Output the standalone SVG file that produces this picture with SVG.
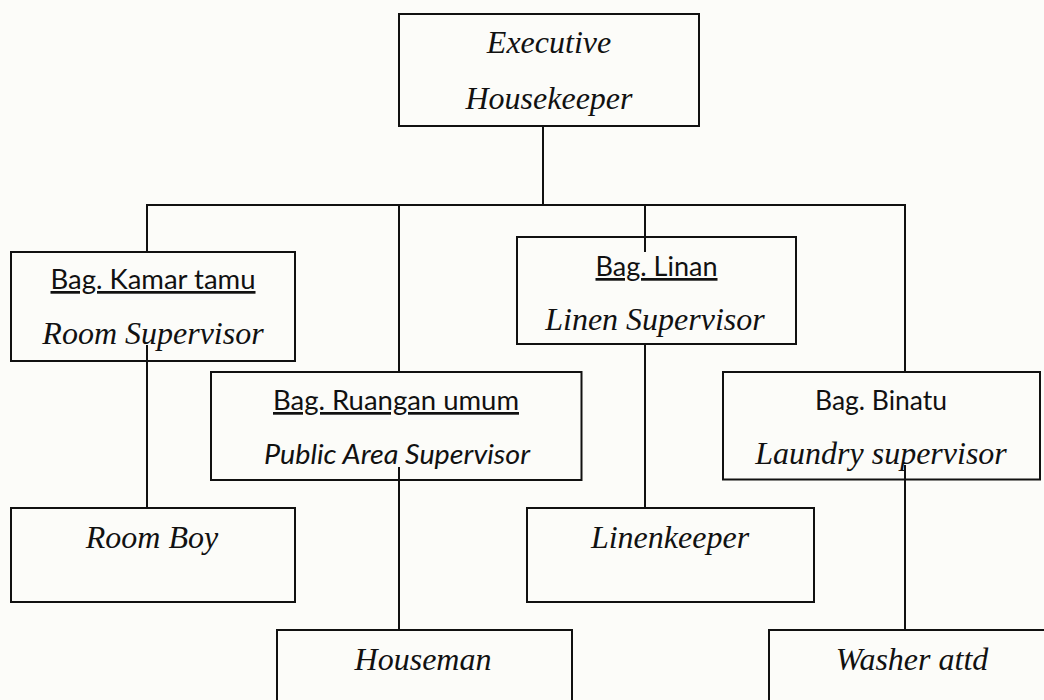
<svg xmlns="http://www.w3.org/2000/svg" width="1044" height="700" viewBox="0 0 1044 700">
<style>
.box{fill:none;stroke:#111;stroke-width:2}
.con{fill:none;stroke:#111;stroke-width:2}
.ser{font-family:"Liberation Serif","Times New Roman",serif;font-style:italic;font-size:32px;fill:#111;text-anchor:middle}
.san{font-family:Lato,"Open Sans",sans-serif;font-size:27px;fill:#111;text-anchor:middle}
.u{text-decoration:underline}
.it{font-style:italic}
</style>
<rect x="0" y="0" width="1044" height="700" fill="#fcfcf9"/>
<g id="exec">
<rect class="box" x="399" y="14" width="300" height="112"/>
<text class="ser" x="549" y="53">Executive</text>
<text class="ser" x="549" y="109">Housekeeper</text>
</g>
<g id="room-supervisor">
<rect class="box" x="11" y="252" width="284" height="109"/>
<text class="san u" x="153" y="289" textLength="205" lengthAdjust="spacingAndGlyphs">Bag. Kamar tamu</text>
<text class="ser" x="153" y="344">Room Supervisor</text>
</g>
<g id="linen-supervisor">
<rect class="box" x="517" y="237" width="279" height="107"/>
<text class="san u" x="656.5" y="276" textLength="122" lengthAdjust="spacingAndGlyphs">Bag. Linan</text>
<text class="ser" x="655" y="330">Linen Supervisor</text>
</g>
<g id="public-area-supervisor">
<rect class="box" x="211" y="372" width="370.5" height="108"/>
<text class="san u" x="396" y="410" textLength="246" lengthAdjust="spacingAndGlyphs">Bag. Ruangan umum</text>
<text class="san it" x="397" y="464" textLength="266" lengthAdjust="spacingAndGlyphs">Public Area Supervisor</text>
</g>
<g id="laundry-supervisor">
<rect class="box" x="723" y="372" width="317" height="107.5"/>
<text class="san" x="881" y="410" textLength="132" lengthAdjust="spacingAndGlyphs">Bag. Binatu</text>
<text class="ser" x="881" y="464">Laundry supervisor</text>
</g>
<g id="room-boy">
<rect class="box" x="11" y="508" width="284" height="94"/>
<text class="ser" x="152" y="548">Room Boy</text>
</g>
<g id="linenkeeper">
<rect class="box" x="527" y="508" width="287" height="94"/>
<text class="ser" x="670" y="548">Linenkeeper</text>
</g>
<g id="houseman">
<rect class="box" x="277" y="630" width="295" height="100"/>
<text class="ser" x="423" y="670">Houseman</text>
</g>
<g id="washer-attd">
<rect class="box" x="769" y="630" width="300" height="100"/>
<text class="ser" x="912" y="670">Washer attd</text>
</g>
<g id="connectors">
<line class="con" x1="543" y1="126" x2="543" y2="205"/>
<line class="con" x1="146" y1="205" x2="906" y2="205"/>
<line class="con" x1="147" y1="205" x2="147" y2="252"/>
<line class="con" x1="399" y1="205" x2="399" y2="372"/>
<line class="con" x1="645" y1="205" x2="645" y2="252"/>
<line class="con" x1="905" y1="205" x2="905" y2="372"/>
<line class="con" x1="147" y1="345" x2="147" y2="508"/>
<line class="con" x1="399" y1="467" x2="399" y2="630"/>
<line class="con" x1="645" y1="344" x2="645" y2="508"/>
<line class="con" x1="905" y1="465" x2="905" y2="630"/>
</g>
</svg>
